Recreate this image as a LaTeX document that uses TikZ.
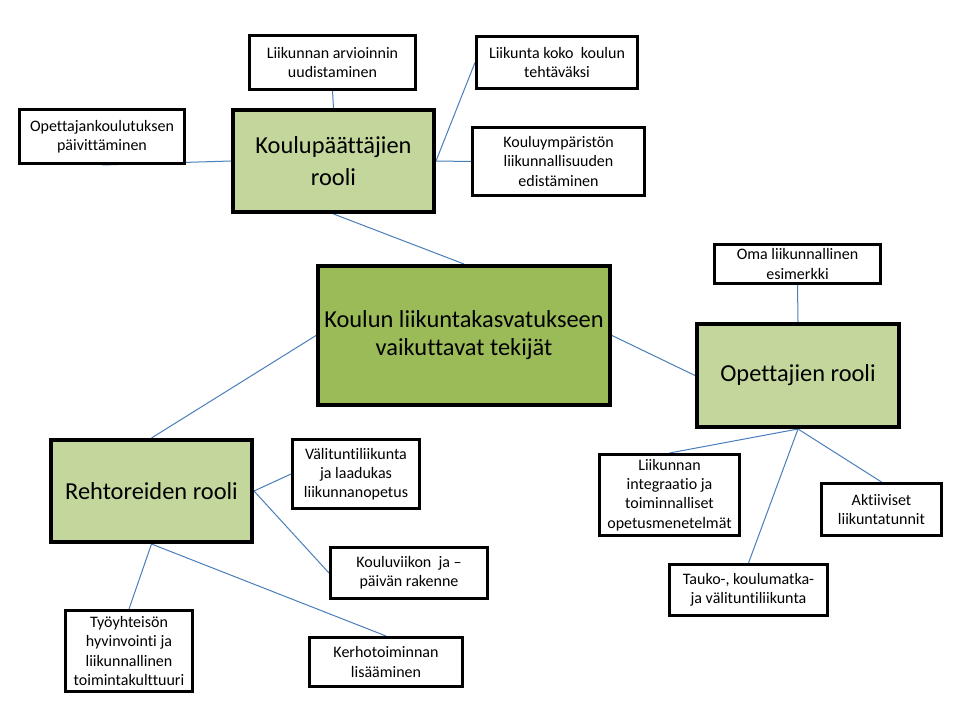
\documentclass[tikz,border=0pt]{standalone}
\usepackage{fontspec}
\setmainfont{Carlito}[Ligatures={NoCommon}]
\usetikzlibrary{backgrounds}
\definecolor{lightgreen}{HTML}{C3D69B}
\definecolor{midgreen}{HTML}{9BBB59}
\definecolor{conn}{HTML}{4A7EBB}
\tikzset{
  sbox/.style 2 args={draw=black, line width=2.25pt, fill=white, inner sep=0pt, align=center,
    minimum width={(#1-3)*0.75pt}, minimum height={(#2-3)*0.75pt},
    font=\fontsize{12pt}{14.4pt}\selectfont},
  gbox/.style 2 args={draw=black, line width=3pt, fill=lightgreen, inner sep=0pt, align=center,
    minimum width={(#1-4)*0.75pt}, minimum height={(#2-4)*0.75pt},
    font=\fontsize{18.3pt}{24pt}\selectfont},
  cbox/.style 2 args={draw=black, line width=3pt, fill=midgreen, inner sep=0pt, align=center,
    minimum width={(#1-4)*0.75pt}, minimum height={(#2-4)*0.75pt},
    font=\fontsize{18.3pt}{21pt}\selectfont},
  link/.style={draw=conn, line width=0.75pt}
}
\begin{document}
\begin{tikzpicture}[x=0.75pt,y=-0.75pt]
\useasboundingbox (0,0) rectangle (960,720);
\node[cbox={296}{143}] (center) at (464,335.5) {Koulun liikuntakasvatukseen\\vaikuttavat tekijät};
\node[gbox={205}{106}] (kp) at (333.5,161) {Koulupäättäjien\\rooli};
\node[gbox={206}{107}] (op) at (798,375.5) {Opettajien rooli};
\node[gbox={205}{106}] (reh) at (151.5,491) {Rehtoreiden rooli};
\node[sbox={169}{57}] (arv) at (332.5,62.5) {Liikunnan arvioinnin\\uudistaminen};
\node[sbox={168}{57}] (opk) at (102,136.5) {Opettajankoulutuksen\\päivittäminen};
\node[sbox={164}{55}] (lkk) at (557,62.5) {Liikunta koko\ \ koulun\\tehtäväksi};
\node[sbox={175}{71}] (ky) at (558.5,161.5) {Kouluympäristön\\liikunnallisuuden\\edistäminen};
\node[sbox={169}{42}] (oma) at (797.5,264) {Oma liikunnallinen\\esimerkki};
\node[sbox={143}{84}] (lint) at (669.5,495) {Liikunnan\\integraatio ja\\toiminnalliset\\opetusmenetelmät};
\node[sbox={123}{55}] (akt) at (881.5,509.5) {Aktiiviset\\liikuntatunnit};
\node[sbox={161}{54}] (tauko) at (748.5,590) {Tauko-, koulumatka-\\ja välituntiliikunta};
\node[sbox={130}{72}] (val) at (356,474) {Välituntiliikunta\\ja laadukas\\liikunnanopetus};
\node[sbox={160}{54}] (kv) at (409,573) {Kouluviikon\ \ ja –\\päivän rakenne};
\node[sbox={130}{84}] (ty) at (129,651) {Työyhteisön\\hyvinvointi ja\\liikunnallinen\\toimintakulttuuri};
\node[sbox={156}{52}] (ker) at (386,662) {Kerhotoiminnan\\lisääminen};
\begin{scope}[on background layer]
\fill[white] (0,0) rectangle (960,720);
\draw[link] (arv.south) -- (kp.north);
\draw[link] (opk.south) -- (kp.west);
\draw[link] (kp.east) -- (lkk.west);
\draw[link] (kp.east) -- (ky.west);
\draw[link] (kp.south) -- (center.north);
\draw[link] (center.west) -- (reh.north);
\draw[link] (center.east) -- (op.west);
\draw[link] (oma.south) -- (op.north);
\draw[link] (op.south) -- (lint.north);
\draw[link] (op.south) -- (tauko.north);
\draw[link] (op.south) -- (akt.north);
\draw[link] (reh.east) -- (val.west);
\draw[link] (reh.east) -- (kv.west);
\draw[link] (reh.south) -- (ty.north);
\draw[link] (reh.south) -- (ker.north);
\end{scope}
\end{tikzpicture}
\end{document}
